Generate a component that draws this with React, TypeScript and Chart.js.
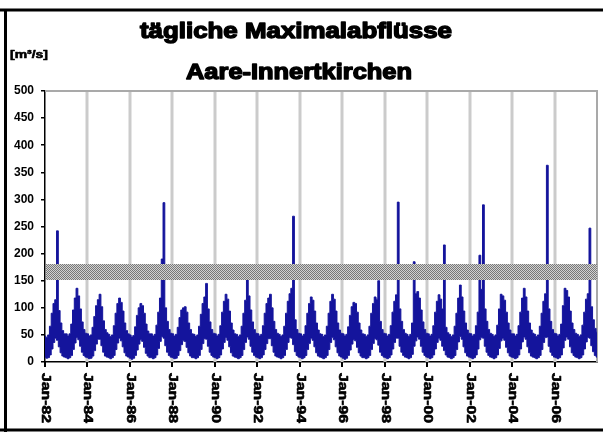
import React, { useEffect, useRef } from 'react';
import { Chart, registerables } from 'chart.js';

Chart.register(...registerables);

const titleLines = ['tägliche Maximalabflüsse', 'Aare-Innertkirchen'];
const unitLabel = '[m³/s]';

const years = [1982, 1983, 1984, 1985, 1986, 1987, 1988, 1989, 1990, 1991, 1992, 1993, 1994,
  1995, 1996, 1997, 1998, 1999, 2000, 2001, 2002, 2003, 2004, 2005, 2006, 2007];

const monthNames = ['Jan', 'Feb', 'Mrz', 'Apr', 'Mai', 'Jun', 'Jul', 'Aug', 'Sep', 'Okt', 'Nov', 'Dez'];

// monthly maximum of the daily maxima [m3/s], one row per year (Jan..Dec)
const monthlyMax: number[][] = [
  [48, 45, 50, 66, 90, 108, 115, 242, 95, 72, 58, 52],
  [52, 48, 52, 70, 96, 118, 136, 122, 98, 74, 60, 53],
  [52, 48, 50, 64, 84, 104, 115, 125, 102, 76, 60, 54],
  [51, 47, 50, 67, 90, 108, 118, 110, 94, 72, 58, 52],
  [50, 46, 49, 65, 86, 100, 108, 104, 90, 70, 57, 52],
  [52, 48, 51, 68, 92, 118, 190, 294, 100, 75, 60, 53],
  [52, 48, 51, 64, 82, 96, 100, 102, 92, 72, 60, 52],
  [51, 47, 50, 66, 88, 108, 120, 145, 98, 74, 60, 53],
  [52, 48, 51, 67, 92, 112, 125, 116, 94, 72, 59, 52],
  [51, 47, 50, 66, 90, 114, 152, 122, 96, 74, 60, 53],
  [52, 48, 51, 67, 90, 108, 118, 125, 100, 75, 60, 53],
  [51, 47, 50, 66, 90, 112, 126, 136, 269, 78, 60, 53],
  [52, 48, 51, 67, 90, 108, 120, 114, 94, 72, 59, 52],
  [51, 47, 50, 66, 90, 112, 125, 116, 94, 72, 59, 53],
  [52, 48, 51, 65, 86, 102, 110, 108, 92, 72, 59, 52],
  [51, 47, 50, 66, 90, 108, 120, 116, 150, 75, 60, 53],
  [52, 48, 51, 67, 92, 112, 124, 295, 98, 75, 60, 53],
  [51, 47, 51, 72, 185, 126, 130, 118, 96, 74, 60, 53],
  [52, 48, 51, 67, 92, 112, 124, 116, 98, 216, 64, 54],
  [51, 47, 50, 66, 90, 118, 142, 120, 94, 72, 59, 53],
  [52, 48, 51, 67, 92, 197, 134, 290, 98, 75, 60, 53],
  [51, 47, 50, 68, 98, 125, 122, 114, 92, 72, 59, 52],
  [52, 48, 51, 67, 92, 118, 136, 120, 94, 72, 59, 53],
  [51, 47, 50, 66, 90, 112, 126, 363, 98, 75, 60, 53],
  [52, 48, 51, 70, 104, 136, 132, 120, 94, 72, 60, 53],
  [51, 47, 50, 68, 92, 116, 126, 247, 102, 78, 62, 55],
];

// monthly minimum of the daily values [m3/s]
const monthlyMin: number[][] = [
  [9, 7, 8, 13, 24, 36, 44, 40, 28, 17, 11, 9],
  [8, 6, 8, 12, 23, 35, 45, 41, 29, 18, 12, 9],
  [8, 6, 7, 11, 21, 33, 42, 42, 30, 18, 11, 9],
  [8, 6, 8, 12, 23, 35, 44, 39, 28, 17, 11, 9],
  [7, 5, 7, 12, 22, 33, 41, 38, 27, 16, 11, 8],
  [8, 6, 8, 13, 25, 38, 47, 44, 30, 18, 12, 9],
  [8, 6, 7, 12, 21, 32, 39, 38, 27, 17, 11, 8],
  [8, 6, 8, 12, 23, 34, 43, 42, 29, 18, 12, 9],
  [8, 6, 8, 13, 24, 36, 45, 40, 28, 17, 11, 9],
  [8, 6, 8, 12, 23, 36, 46, 42, 29, 18, 12, 9],
  [8, 6, 8, 13, 23, 34, 43, 43, 30, 18, 11, 9],
  [8, 6, 8, 12, 23, 36, 45, 44, 32, 19, 12, 9],
  [8, 6, 8, 12, 23, 34, 44, 40, 28, 17, 11, 9],
  [8, 6, 8, 12, 23, 36, 45, 41, 28, 17, 11, 9],
  [7, 5, 7, 12, 22, 33, 41, 39, 27, 17, 11, 8],
  [8, 6, 8, 12, 23, 34, 43, 41, 31, 18, 12, 9],
  [8, 6, 8, 13, 24, 36, 44, 44, 29, 18, 12, 9],
  [8, 6, 8, 14, 29, 39, 46, 42, 29, 18, 12, 9],
  [8, 6, 8, 13, 24, 36, 44, 40, 29, 21, 13, 9],
  [8, 6, 8, 12, 23, 37, 47, 42, 28, 17, 11, 9],
  [8, 6, 8, 13, 24, 41, 45, 44, 29, 18, 12, 9],
  [8, 6, 8, 13, 25, 39, 44, 40, 27, 17, 11, 9],
  [8, 6, 8, 13, 24, 37, 46, 42, 28, 17, 11, 9],
  [8, 6, 8, 12, 23, 36, 45, 46, 29, 18, 12, 9],
  [8, 6, 8, 13, 26, 40, 46, 42, 28, 17, 12, 9],
  [8, 6, 8, 13, 24, 37, 45, 44, 30, 19, 12, 9],
];

const xTickLabels = ['Jan-82', 'Jan-84', 'Jan-86', 'Jan-88', 'Jan-90', 'Jan-92', 'Jan-94',
  'Jan-96', 'Jan-98', 'Jan-00', 'Jan-02', 'Jan-04', 'Jan-06'];
const monthsPerTick = 24;

const bandLow = 150;
const bandHigh = 180;

const categories: string[] = [];
const lows: number[] = [];
const highs: number[] = [];
years.forEach((y, yi) => {
  monthNames.forEach((m, mi) => {
    categories.push(`${m} ${y}`);
    lows.push(monthlyMin[yi][mi]);
    highs.push(monthlyMax[yi][mi]);
  });
});

function drawHeavy(ctx: CanvasRenderingContext2D, text: string, x: number, y: number, stroke: number) {
  ctx.fillText(text, x, y);
  if (stroke > 0) {
    ctx.lineWidth = stroke;
    ctx.lineJoin = 'round';
    ctx.strokeStyle = '#000';
    ctx.strokeText(text, x, y);
  }
}

function drawStretched(ctx: CanvasRenderingContext2D, text: string, cx: number, baseline: number, targetWidth: number, stroke: number) {
  const w = ctx.measureText(text).width;
  const sx = targetWidth / w;
  ctx.save();
  ctx.translate(cx, baseline);
  ctx.scale(sx, 1);
  ctx.textAlign = 'center';
  ctx.textBaseline = 'alphabetic';
  drawHeavy(ctx, text, 0, 0, stroke);
  ctx.restore();
}

const decorPlugin = {
  id: 'decor',
  beforeDatasetsDraw(chart: any) {
    const { ctx, chartArea: a } = chart;
    const n = categories.length;
    ctx.save();
    ctx.strokeStyle = '#cbcbcb';
    ctx.lineWidth = 3;
    for (let i = 1; i < xTickLabels.length; i++) {
      const px = Math.round(a.left + (i * monthsPerTick / n) * (a.right - a.left));
      ctx.beginPath();
      ctx.moveTo(px, a.top);
      ctx.lineTo(px, a.bottom);
      ctx.stroke();
    }
    ctx.strokeStyle = '#a9a9a9';
    ctx.lineWidth = 2;
    ctx.beginPath();
    ctx.moveTo(a.left, a.top);
    ctx.lineTo(a.right, a.top);
    ctx.lineTo(a.right, a.bottom);
    ctx.stroke();
    ctx.restore();
  },
  afterDatasetsDraw(chart: any) {
    const { ctx, chartArea: a, scales } = chart;
    const y = scales.y;
    const pc = document.createElement('canvas');
    pc.width = 2;
    pc.height = 2;
    const p = pc.getContext('2d')!;
    p.fillStyle = '#d2d2d2';
    p.fillRect(0, 0, 2, 2);
    p.fillStyle = '#787878';
    p.fillRect(0, 0, 1, 1);
    p.fillRect(1, 1, 1, 1);
    const pat = ctx.createPattern(pc, 'repeat');
    const top = y.getPixelForValue(bandHigh);
    const bot = y.getPixelForValue(bandLow);
    ctx.save();
    ctx.fillStyle = pat;
    ctx.fillRect(a.left + 1, Math.round(top), a.right - a.left - 1, Math.round(bot - top));
    ctx.restore();
  },
  afterDraw(chart: any) {
    const { ctx, chartArea: a } = chart;
    const n = categories.length;
    ctx.save();
    ctx.fillStyle = '#000';
    // title
    ctx.font = 'bold 22px "Liberation Sans", Arial, sans-serif';
    drawStretched(ctx, titleLines[0], 296, 38, 312, 1.4);
    drawStretched(ctx, titleLines[1], 299, 79, 226, 1.4);
    // unit
    ctx.font = 'bold 11px "Liberation Sans", Arial, sans-serif';
    ctx.save();
    const uw = ctx.measureText(unitLabel).width;
    ctx.translate(10, 58);
    ctx.scale(38 / uw, 1);
    ctx.textAlign = 'left';
    drawHeavy(ctx, unitLabel, 0, 0, 0.6);
    ctx.restore();
    // x tick marks and labels
    ctx.strokeStyle = '#000';
    ctx.lineWidth = 2;
    ctx.font = 'bold 12px "Liberation Sans", Arial, sans-serif';
    for (let i = 0; i < xTickLabels.length; i++) {
      const px = Math.round(a.left + (i * monthsPerTick / n) * (a.right - a.left));
      ctx.lineWidth = 2;
      ctx.beginPath();
      ctx.moveTo(px, a.bottom);
      ctx.lineTo(px, a.bottom + 5);
      ctx.stroke();
      const txt = xTickLabels[i];
      const tw = ctx.measureText(txt).width;
      ctx.save();
      ctx.translate(px, a.bottom + 11);
      ctx.rotate(Math.PI / 2);
      ctx.scale(50 / tw, 1);
      ctx.textAlign = 'left';
      ctx.textBaseline = 'middle';
      drawHeavy(ctx, txt, 0, 0, 0.6);
      ctx.restore();
    }
    // outer frame
    ctx.strokeStyle = '#000';
    ctx.lineWidth = 3;
    ctx.beginPath();
    ctx.moveTo(0, 10);
    ctx.lineTo(603, 10);
    ctx.moveTo(5.5, 10);
    ctx.lineTo(5.5, 432);
    ctx.moveTo(0, 430);
    ctx.lineTo(603, 430);
    ctx.stroke();
    ctx.restore();
  },
};

const navy = '#14149c';

export default function App() {
  const ref = useRef<HTMLCanvasElement | null>(null);
  useEffect(() => {
    document.body.style.margin = '0';
    const canvas = ref.current;
    if (!canvas) return;
    const chart = new Chart(canvas, {
      type: 'line',
      data: {
        labels: categories,
        datasets: [
          {
            data: lows,
            borderColor: navy,
            borderWidth: 1,
            pointRadius: 0,
            stepped: 'middle',
            fill: false,
          },
          {
            data: highs,
            borderColor: navy,
            backgroundColor: navy,
            borderWidth: 1,
            pointRadius: 0,
            stepped: 'middle',
            fill: '-1',
          },
        ] as any,
      },
      options: {
        responsive: false,
        animation: false,
        devicePixelRatio: 1,
        layout: { padding: { top: 91, right: 6, left: 0, bottom: 0 } },
        plugins: {
          legend: { display: false },
          tooltip: { enabled: false },
          title: { display: false },
        },
        scales: {
          x: {
            type: 'category',
            offset: false,
            grid: { display: false },
            ticks: { display: false },
            border: { display: true, color: '#000', width: 1.5 },
            afterFit: (s: any) => { s.height = 70; },
          },
          y: {
            min: 0,
            max: 500,
            ticks: {
              stepSize: 50,
              color: '#000',
              padding: 7,
              font: { family: '"Liberation Sans", Arial, sans-serif', size: 12, weight: 'bold' },
            },
            grid: {
              display: true,
              drawOnChartArea: false,
              drawTicks: true,
              tickLength: 4,
              color: '#000',
              tickColor: '#000',
              lineWidth: 1.5,
            },
            border: { display: true, color: '#000', width: 1.5 },
            afterFit: (s: any) => { s.width = 45; },
          },
        },
      },
      plugins: [decorPlugin],
    });
    return () => chart.destroy();
  }, []);
  return <canvas ref={ref} width={603} height={432} style={{ display: 'block' }} />;
}
